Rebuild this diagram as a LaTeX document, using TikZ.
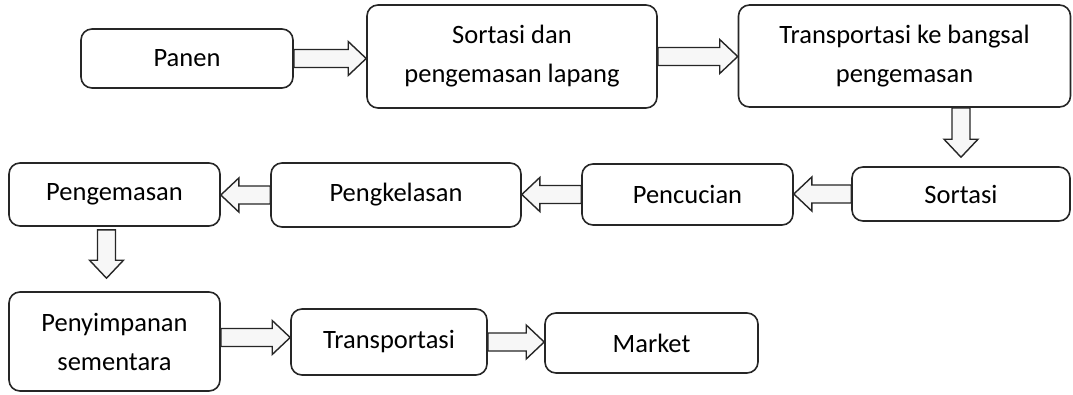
\documentclass[tikz,border=0pt]{standalone}
\usepackage{fontspec}
\setmainfont{Carlito}
\usetikzlibrary{calc}
\tikzset{
  box/.style={draw=black!85, line width=1.6pt, rounded corners=11pt, fill=white, align=center, inner sep=0pt,
    font=\fontsize{26.5}{39}\selectfont},
  fatarrow/.style={draw=black!85, line width=1.4pt, fill=black!3, line join=miter},
}
\newcommand\fatarr[2]{%
  \coordinate (fa-s) at (#1);
  \coordinate (fa-t) at (#2);
  \coordinate (fa-m) at ($(fa-t)!18pt!(fa-s)$);
  \draw[fatarrow] ($(fa-s)!9pt!90:(fa-t)$) -- ($(fa-m)!9pt!90:(fa-t)$) -- ($(fa-m)!17pt!90:(fa-t)$) -- (fa-t) -- ($(fa-m)!17pt!-90:(fa-t)$) -- ($(fa-m)!9pt!-90:(fa-t)$) -- ($(fa-s)!9pt!-90:(fa-t)$) -- cycle;
}
\begin{document}
\begin{tikzpicture}[x=1pt,y=-1pt]
\useasboundingbox (0,0) rectangle (1073,394);
% row 1
\node[box, minimum width=212pt, minimum height=59pt] (panen) at (187,58.5) {Panen};
\node[box, minimum width=290pt, minimum height=103pt] (sd) at (512,56.5) {Sortasi dan\\pengemasan lapang};
\node[box, minimum width=332pt, minimum height=102pt] (tb) at (904.5,56) {Transportasi ke bangsal\\pengemasan};
% row 2
\node[box, minimum width=218pt, minimum height=54pt] (s2) at (961,194) {Sortasi};
\node[box, minimum width=211pt, minimum height=61pt] (pc) at (687.5,194.5) {Pencucian};
\node[box, minimum width=250pt, minimum height=64pt] (pk) at (396,195) {Pengkelasan};
\node[box, minimum width=211pt, minimum height=63pt] (pg) at (114.5,194.5) {Pengemasan};
% row 3
\node[box, minimum width=211pt, minimum height=99pt] (py) at (114.5,341.5) {Penyimpanan\\sementara};
\node[box, minimum width=196pt, minimum height=66pt] (tr) at (389,342) {Transportasi};
\node[box, minimum width=213pt, minimum height=60pt] (mk) at (651.5,343) {Market};
% arrows
\coordinate (pgo) at ($(pg.south)+(-8,3)$);
\coordinate (pyn) at ($(py.north)+(-8,-13)$);
\coordinate (pyo) at ($(py.east)+(0,-4)$);
\coordinate (s2n) at ($(s2.north)+(0,-9)$);
\fatarr{panen.east}{panen.east -| sd.west}
\fatarr{sd.east}{sd.east -| tb.west}
\fatarr{tb.south -| s2.north}{s2n}
\fatarr{s2.west}{s2.west -| pc.east}
\fatarr{pc.west}{pc.west -| pk.east}
\fatarr{pk.west}{pk.west -| pg.east}
\fatarr{pgo}{pyn}
\fatarr{pyo}{pyo -| tr.west}
\fatarr{tr.east}{tr.east -| mk.west}
\end{tikzpicture}
\end{document}
